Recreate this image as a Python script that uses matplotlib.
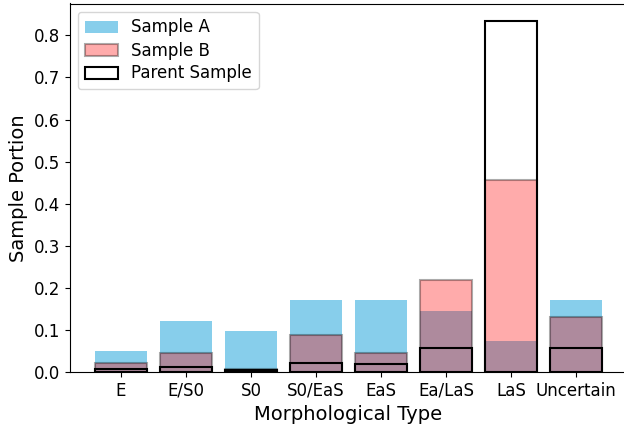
import matplotlib

matplotlib.use("Agg")
import matplotlib.pyplot as plt
import numpy as np

types = ["E", "E/S0", "S0", "S0/EaS", "EaS", "Ea/LaS", "LaS", "Uncertain"]
sample_a = [0.049, 0.122, 0.098, 0.171, 0.171, 0.146, 0.073, 0.171]
sample_b = [0.022, 0.044, 0.007, 0.088, 0.044, 0.218, 0.457, 0.131]
parent = [0.006, 0.011, 0.005, 0.022, 0.019, 0.056, 0.834, 0.056]

x = np.arange(len(types))

W, H = 624, 426
fig = plt.figure(figsize=(W / 100, H / 100), dpi=100)
# axes box in pixels: left 69.5, bottom spine at 372, top spine at 3.5
ax = fig.add_axes([69.5 / W, (H - 372) / H, 558 / W, (372 - 3.5) / H])

ax.bar(x, sample_a, width=0.8, color="skyblue", label="Sample A")
ax.bar(x, sample_b, width=0.8, color="red", alpha=0.33, edgecolor="black",
       linewidth=1.5, label="Sample B")
ax.bar(x, parent, width=0.8, fill=False, edgecolor="black", linewidth=1.5,
       label="Parent Sample")

ax.set_xticks(x)
ax.set_xticklabels(types, fontsize=12)
ax.tick_params(axis="y", labelsize=12)
ax.set_xlabel("Morphological Type", fontsize=14)
ax.set_ylabel("Sample Portion", fontsize=14)
ax.legend(loc="upper left", fontsize=12, labelspacing=0.3)

fig.savefig("out.png", dpi=100)
